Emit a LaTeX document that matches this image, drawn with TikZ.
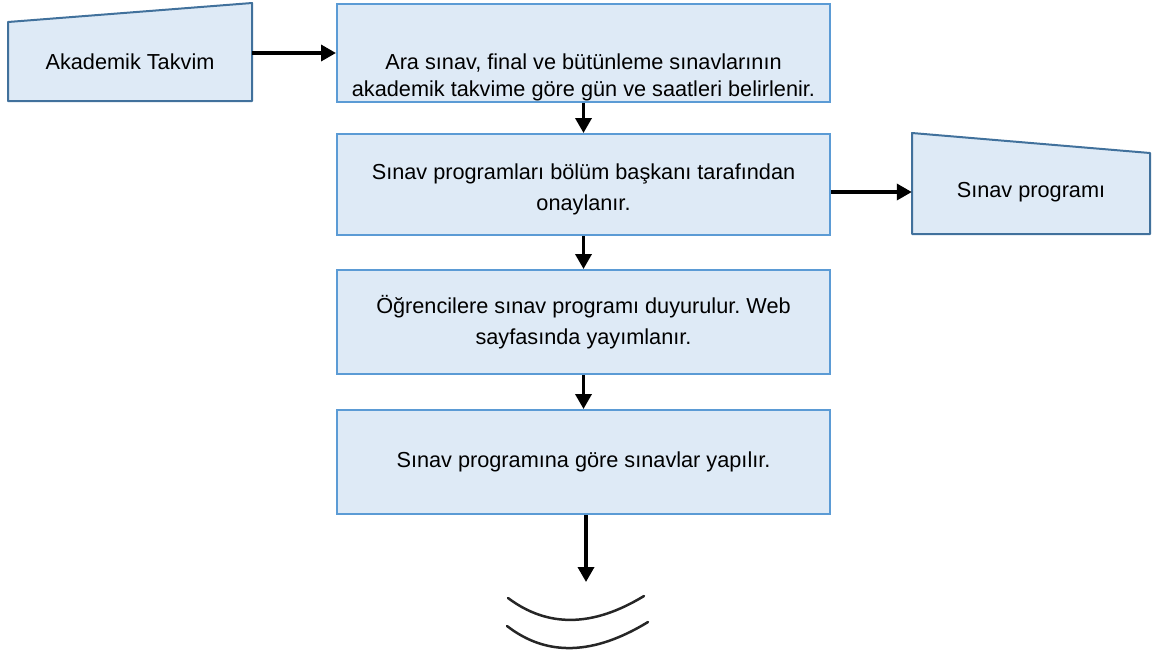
\documentclass[tikz,border=0pt]{standalone}
\usepackage{fontspec}
\setmainfont{Liberation Sans}
\usetikzlibrary{positioning,arrows.meta}

\definecolor{boxfill}{RGB}{222,234,246}
\definecolor{boxline}{RGB}{91,155,213}
\definecolor{inputline}{RGB}{65,113,156}

\frenchspacing

\begin{document}
\begin{tikzpicture}[
    x=1pt, y=-1pt,
    every node/.style={font=\fontsize{21.7}{31}\selectfont, align=center, inner sep=0pt},
    step box/.style={draw=boxline, fill=boxfill, line width=2pt, minimum width=493pt},
    input shape/.style={draw=inputline, fill=boxfill, line width=2pt, line join=round},
    flow/.style={draw, line width=3.5pt, -{Triangle[length=15pt, width=16pt]}},
    end arc/.style={draw=black!85, line width=2.5pt, line cap=round}
    ]

    \useasboundingbox (0,0) rectangle (1153,657);

    % Input shapes
    \draw[input shape] (8,101) -- (8,22) -- (252,3) -- (252,101) -- cycle;
    \draw[input shape] (912,234) -- (912,133) -- (1150,153) -- (1150,234) -- cycle;

    % Nodes
    \node[minimum width=244pt] (takvim) at (130,62) {Akademik Takvim};
    \node[minimum width=238pt] (program) at (1031,192) {Sınav programı};

    \node[step box, minimum height=98pt,
        label={[yshift=-24pt]center:Ara sınav, final ve bütünleme sınavlarının\\[-4pt]akademik takvime göre gün ve saatleri belirlenir.}]
        (ara) at (583.5,53) {};
    \node[step box, minimum height=101pt,
        label={[yshift=-5pt]center:Sınav programları bölüm başkanı tarafından\\onaylanır.}]
        (onay) at (583.5,184.5) {};
    \node[step box, minimum height=104pt] (duyuru) at (583.5,322)
        {Öğrencilere sınav programı duyurulur. Web\\sayfasında yayımlanır.};
    \node[step box, minimum height=104pt] (sinavlar) at (583.5,462)
        {Sınav programına göre sınavlar yapılır.};

    \coordinate (son) at (586,582);

    % Connections
    \path[flow] (takvim.east |- ara.west) -- (ara.west);
    \path[flow] (onay.east |- program.west) -- (program.west);

    \foreach \a/\b in {ara/onay, onay/duyuru, duyuru/sinavlar}
        \path[flow] (\a.south) -- (\b.north);

    \path[flow] (sinavlar.south -| son) -- (son);

    % End mark
    \path[end arc] (508,598) .. controls (548,628) and (593,627) .. (644,596);
    \path[end arc] (507,626) .. controls (547,657) and (594,655) .. (648,622);

\end{tikzpicture}
\end{document}
